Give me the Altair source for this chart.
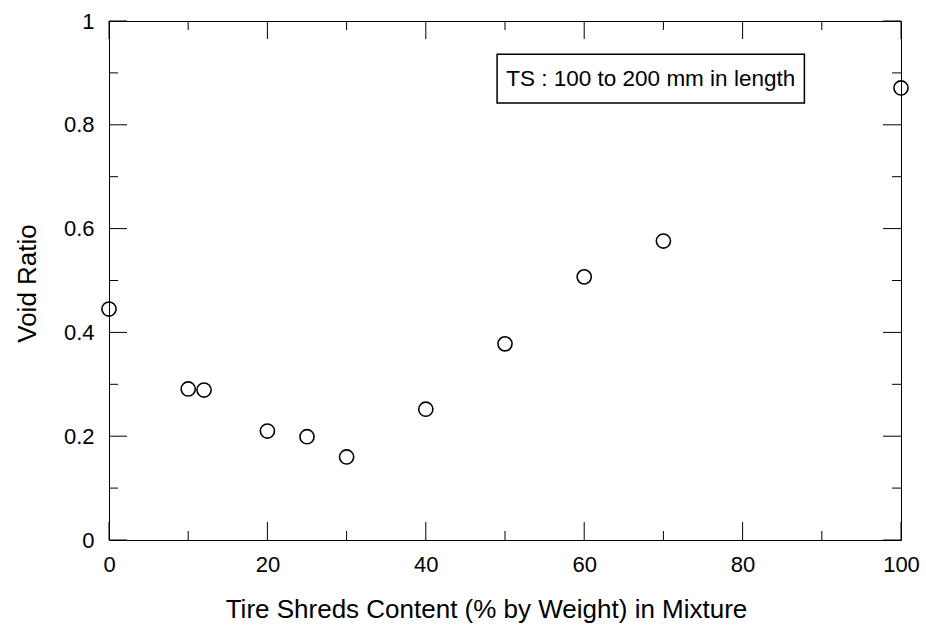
import altair as alt
import pandas as pd

# Tire shreds content (% by weight) and measured void ratio
content = [0, 10, 12, 20, 25, 30, 40, 50, 60, 70, 100]
void_ratio = [0.445, 0.291, 0.289, 0.210, 0.199, 0.160, 0.252, 0.378, 0.507, 0.576, 0.871]

x_major = [0, 20, 40, 60, 80, 100]
x_minor = [10, 30, 50, 70, 90]
y_major = [0, 0.2, 0.4, 0.6, 0.8, 1.0]
y_minor = [0.1, 0.3, 0.5, 0.7, 0.9]

note_text = "TS : 100 to 200 mm in length"

W, H = 792, 519
FONT = "Liberation Sans"
MAJOR, MINOR = 18, 9

xs = alt.Scale(domain=[0, 100], nice=False, zero=False)
ys = alt.Scale(domain=[0, 1], nice=False, zero=False)

x_axis = alt.Axis(values=x_major, ticks=False, domain=False, grid=False,
                  labelFont=FONT, labelFontSize=22, labelColor="black",
                  labelPadding=14, labelFlush=False,
                  titleFont=FONT, titleFontSize=26, titleFontWeight="normal",
                  titleColor="black", titleBaseline="alphabetic",
                  titleX=377, titleY=77, titleAlign="center")
y_axis = alt.Axis(values=y_major, ticks=False, domain=False, grid=False,
                  labelFont=FONT, labelFontSize=22, labelColor="black",
                  labelPadding=15, labelFlush=False,
                  titleFont=FONT, titleFontSize=26, titleFontWeight="normal",
                  titleColor="black", titleBaseline="alphabetic", titleAngle=270,
                  titleX=-74, titleY=262, titleAlign="center",
                  labelExpr="datum.value == 0 || datum.value == 1 ? format(datum.value, 'd') : format(datum.value, '.1f')")
X_TITLE = "Tire Shreds Content (% by Weight) in Mixture"
Y_TITLE = "Void Ratio"


def X(field):
    return alt.X(field, scale=xs, title=X_TITLE, axis=x_axis)


def Y(field):
    return alt.Y(field, scale=ys, title=Y_TITLE, axis=y_axis)


df = pd.DataFrame({"content": content, "void": void_ratio})

points = alt.Chart(df).mark_point(
    shape="circle", filled=False, color="black", size=200, strokeWidth=1.6, opacity=1
).encode(x=X("content:Q"), y=Y("void:Q"))


def xticks(vals, length):
    d = pd.DataFrame({"v": vals})
    base = alt.Chart(d).mark_rule(color="black", strokeWidth=1)
    bottom = base.encode(x=X("v:Q"), y=alt.value(H), y2=alt.value(H - length))
    top = base.encode(x=X("v:Q"), y=alt.value(0), y2=alt.value(length))
    return [bottom, top]


def yticks(vals, length):
    d = pd.DataFrame({"v": vals})
    base = alt.Chart(d).mark_rule(color="black", strokeWidth=1)
    left = base.encode(y=Y("v:Q"), x=alt.value(0), x2=alt.value(length))
    right = base.encode(y=Y("v:Q"), x=alt.value(W), x2=alt.value(W - length))
    return [left, right]


ticks = xticks(x_major, MAJOR) + xticks(x_minor, MINOR) + yticks(y_major, MAJOR) + yticks(y_minor, MINOR)

# Note box in the upper right
note = pd.DataFrame({"x1": [49.0], "x2": [87.8], "y1": [0.936], "y2": [0.842],
                     "xc": [68.4], "yc": [0.889], "t": [note_text]})
box = alt.Chart(note).mark_rect(fill="white", stroke="black", strokeWidth=1.5).encode(
    x=X("x1:Q"), x2="x2:Q", y=Y("y1:Q"), y2="y2:Q")
label = alt.Chart(note).mark_text(font=FONT, fontSize=22.5, color="black",
                                  align="center", baseline="middle").encode(
    x=X("xc:Q"), y=Y("yc:Q"), text="t:N")

chart = alt.layer(points, *ticks, box, label).properties(
    width=W, height=H,
    background="white",
    autosize=alt.AutoSizeParams(type="none"),
    padding={"left": 109, "top": 21, "right": 25, "bottom": 87},
).configure_view(stroke="black", strokeWidth=1)

chart.save("out.html", embed_options={"renderer": "svg", "actions": False})
